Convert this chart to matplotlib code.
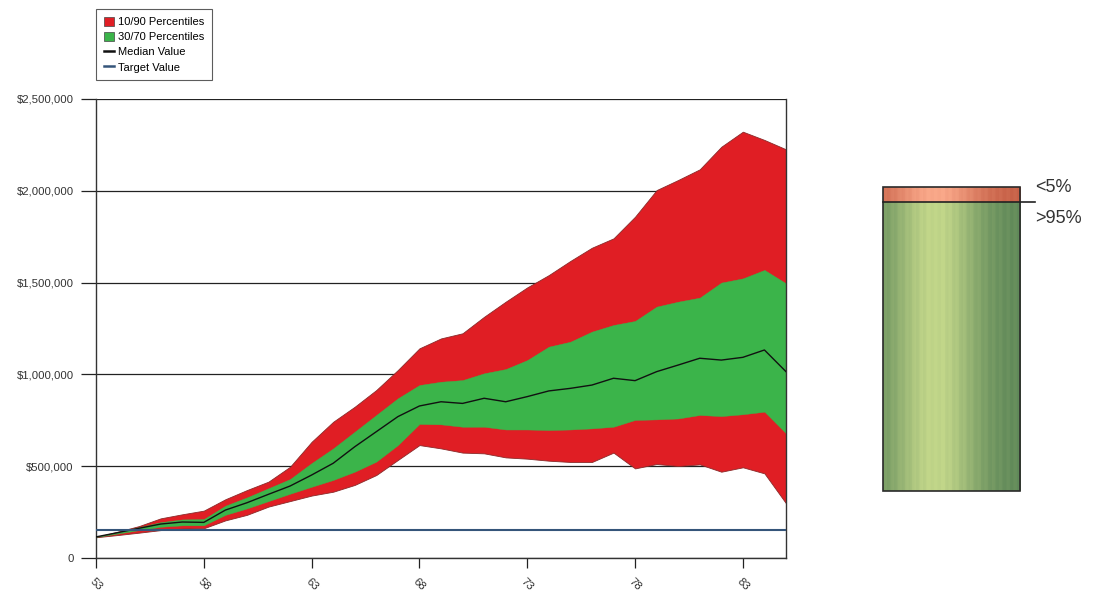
import numpy as np
import matplotlib
matplotlib.use("Agg")
import matplotlib.pyplot as plt
from matplotlib.patches import Patch, Rectangle
from matplotlib.lines import Line2D
from matplotlib.ticker import FuncFormatter

plt.rcParams['font.family'] = ['Liberation Sans', 'DejaVu Sans']

# ---- data (values in millions of dollars) ----
ages = list(range(53, 86))
p90 = [0.115, 0.143, 0.174, 0.216, 0.238, 0.258, 0.320, 0.370, 0.416, 0.497,
       0.633, 0.742, 0.824, 0.915, 1.024, 1.142, 1.196, 1.224, 1.314, 1.396,
       1.474, 1.541, 1.618, 1.690, 1.741, 1.859, 2.004, 2.059, 2.117, 2.240,
       2.322, 2.277, 2.226]
p70 = [0.115, 0.140, 0.168, 0.195, 0.210, 0.212, 0.285, 0.330, 0.380, 0.430,
       0.517, 0.597, 0.688, 0.779, 0.870, 0.942, 0.960, 0.969, 1.006, 1.029,
       1.078, 1.151, 1.178, 1.233, 1.269, 1.291, 1.369, 1.396, 1.418, 1.500,
       1.523, 1.569, 1.496]
median = [0.115, 0.138, 0.162, 0.185, 0.196, 0.194, 0.261, 0.301, 0.347, 0.392,
          0.452, 0.516, 0.606, 0.688, 0.770, 0.828, 0.851, 0.842, 0.870, 0.851,
          0.879, 0.910, 0.924, 0.942, 0.979, 0.966, 1.015, 1.051, 1.088, 1.078,
          1.093, 1.133, 1.015]
p30 = [0.115, 0.133, 0.152, 0.170, 0.178, 0.178, 0.235, 0.270, 0.310, 0.350,
       0.388, 0.425, 0.470, 0.525, 0.615, 0.730, 0.728, 0.715, 0.715, 0.700,
       0.700, 0.697, 0.700, 0.706, 0.715, 0.752, 0.755, 0.760, 0.779, 0.773,
       0.783, 0.797, 0.679]
p10 = [0.113, 0.125, 0.138, 0.152, 0.160, 0.162, 0.205, 0.235, 0.280, 0.310,
       0.340, 0.361, 0.398, 0.452, 0.534, 0.615, 0.597, 0.574, 0.570, 0.548,
       0.541, 0.530, 0.523, 0.523, 0.574, 0.488, 0.512, 0.501, 0.510, 0.470,
       0.494, 0.461, 0.298]
target_value = 155000
x_ticks = [53, 58, 63, 68, 73, 78, 83]
y_ticks = [0, 500000, 1000000, 1500000, 2000000, 2500000]

success_pct = 95
fail_pct = 5
bar_labels = ["<5%", ">95%"]

series_labels = ["10/90 Percentiles", "30/70 Percentiles", "Median Value", "Target Value"]

# ---- styling ----
RED = "#E01E24"
GREEN = "#3BB44A"
TARGET = "#35557A"

W, H = 1112, 592
fig = plt.figure(figsize=(W / 100, H / 100), dpi=100)
fig.patch.set_facecolor("white")

ax = fig.add_axes([96 / W, 1 - 558 / H, (786 - 96) / W, (558 - 99) / H])

sc = 1e6
lo10 = np.array(p10) * sc
hi90 = np.array(p90) * sc
lo30 = np.array(p30) * sc
hi70 = np.array(p70) * sc
med = np.array(median) * sc

for yv in y_ticks:
    ax.axhline(yv, color="#222222", lw=0.9, zorder=0)

ax.fill_between(ages, lo10, hi90, color=RED, edgecolor="#8a2a2a", lw=0.6, zorder=1)
ax.fill_between(ages, lo30, hi70, color=GREEN, edgecolor=GREEN, lw=0.3, zorder=2)
ax.plot(ages, med, color="#111111", lw=1.0, zorder=3)
ax.axhline(target_value, color=TARGET, lw=1.5, zorder=4)

ax.set_xlim(53, 85)
ax.set_ylim(0, 2500000)
ax.set_xticks(x_ticks)
ax.set_xticklabels([str(t) for t in x_ticks], rotation=-45, ha="center", va="top",
                   fontsize=8.2, color="#333333")
ax.set_yticks(y_ticks)
ax.yaxis.set_major_formatter(FuncFormatter(lambda v, p: "0" if v == 0 else "${:,.0f}".format(v)))
ax.tick_params(axis="y", length=11, width=0.9, color="#222222", labelsize=8.2,
               labelcolor="#333333", pad=5)
ax.tick_params(axis="x", length=7, width=0.9, color="#222222", pad=6)
for s in ax.spines.values():
    s.set_color("#333333")
    s.set_linewidth(1.0)
ax.spines["top"].set_visible(False)

handles = [Patch(facecolor=RED, edgecolor="#444444", lw=0.5),
           Patch(facecolor=GREEN, edgecolor="#444444", lw=0.5),
           Line2D([0], [0], color="#111111", lw=1.8),
           Line2D([0], [0], color=TARGET, lw=1.8)]
leg = fig.legend(handles, series_labels, loc="upper left",
                 bbox_to_anchor=(96 / W, 1 - 9 / H), fontsize=8.0, frameon=True,
                 fancybox=False, edgecolor="#333333", handlelength=0.9,
                 handleheight=0.9, handletextpad=0.4, labelspacing=0.42,
                 borderpad=0.7, borderaxespad=0)
leg.get_frame().set_linewidth(0.8)

# ---- right probability bar ----
bx0, bx1, by0, by1 = 883, 1020, 187, 491
bax = fig.add_axes([bx0 / W, 1 - by1 / H, (bx1 - bx0) / W, (by1 - by0) / H])
bax.set_xlim(0, 1)
bax.set_ylim(0, success_pct + fail_pct)
bax.axis("off")

t = np.linspace(0, 1, 200)
light = np.exp(-((t - 0.38) / 0.32) ** 2)
stripes = 0.06 * np.sign(np.sin(t * np.pi * 38))
v = np.clip(light + stripes * 0.6, 0, 1)
g_dark = np.array([0.38, 0.54, 0.35])
g_light = np.array([0.76, 0.84, 0.54])
r_dark = np.array([0.78, 0.38, 0.28])
r_light = np.array([0.98, 0.66, 0.54])
gimg = g_dark[None, :] + (g_light - g_dark)[None, :] * v[:, None]
rimg = r_dark[None, :] + (r_light - r_dark)[None, :] * v[:, None]
bax.imshow(gimg[None, :, :], extent=[0, 1, 0, success_pct], aspect="auto", zorder=1)
bax.imshow(rimg[None, :, :], extent=[0, 1, success_pct, success_pct + fail_pct],
           aspect="auto", zorder=1)
bax.add_patch(Rectangle((0, 0), 1, success_pct + fail_pct, fill=False,
                        edgecolor="#2a2a2a", lw=1.2, zorder=3, clip_on=False))
bax.plot([0, 1.11], [success_pct, success_pct], color="#222222", lw=1.2,
         zorder=4, clip_on=False)
bax.text(1.11, success_pct + fail_pct, bar_labels[0], fontsize=13, color="#333333",
         ha="left", va="center", family=["Liberation Sans", "DejaVu Sans"])
bax.text(1.11, success_pct - 5.5, bar_labels[1], fontsize=13, color="#333333",
         ha="left", va="center", family=["Liberation Sans", "DejaVu Sans"])

fig.savefig("out.png", dpi=100, facecolor="white")
